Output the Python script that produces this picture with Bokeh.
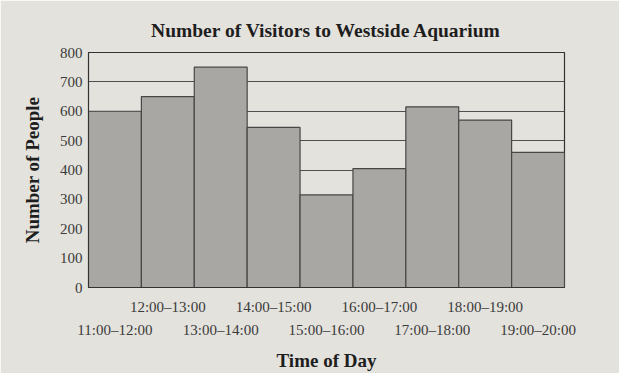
from bokeh.plotting import figure
from bokeh.models import LinearAxis, FixedTicker, Range1d
from bokeh.embed import file_html
from bokeh.resources import INLINE

# Data
time_slots = ["11:00–12:00", "12:00–13:00", "13:00–14:00", "14:00–15:00", "15:00–16:00",
              "16:00–17:00", "17:00–18:00", "18:00–19:00", "19:00–20:00"]
visitors = [600, 650, 750, 545, 315, 405, 615, 570, 460]
y_ticks = [0, 100, 200, 300, 400, 500, 600, 700, 800]

positions = list(range(1, len(time_slots) + 1))

BG = "#e4e2dd"
FONT = "Liberation Serif"

p = figure(width=619, height=373, output_backend="svg", toolbar_location=None,
           x_range=Range1d(0.5, len(time_slots) + 0.5), y_range=Range1d(0, 800),
           x_axis_type=None,
           min_border_left=88, min_border_right=55, min_border_top=52, min_border_bottom=80)

p.background_fill_color = BG
p.border_fill_color = BG
p.outline_line_color = "#333333"
p.outline_line_width = 1.2

p.title.text = "Number of Visitors to Westside Aquarium"
p.title.align = "center"
p.title.text_font = FONT
p.title.text_font_style = "bold"
p.title.text_font_size = "19.5px"
p.title.text_color = "#1e1e1e"
p.title.standoff = 23

p.vbar(x=positions, top=visitors, width=1.0, fill_color="#a8a7a3",
       line_color="#474747", line_width=1.2)

# y axis
ya = p.yaxis[0]
ya.ticker = FixedTicker(ticks=y_ticks)
ya.major_tick_out = 0
ya.major_tick_in = 0
ya.minor_tick_out = 0
ya.minor_tick_in = 0
ya.axis_line_color = "#333333"
ya.major_label_standoff = 6
ya.major_label_text_font = FONT
ya.major_label_text_font_size = "15px"
ya.major_label_text_color = "#3a3a3a"
ya.axis_label = "Number of People"
ya.axis_label_text_font = FONT
ya.axis_label_text_font_style = "bold"
ya.axis_label_text_font_size = "19px"
ya.axis_label_text_color = "#1e1e1e"
ya.axis_label_standoff = 14

p.ygrid.ticker = FixedTicker(ticks=y_ticks)
p.ygrid.grid_line_color = "#4f4f4f"
p.ygrid.grid_line_width = 1

# two staggered x axes
upper = [pos for pos in positions if pos % 2 == 0]
lower = [pos for pos in positions if pos % 2 == 1]

def make_axis(ticks, standoff):
    ax = LinearAxis(ticker=FixedTicker(ticks=ticks),
                    major_label_overrides={t: time_slots[t - 1] for t in ticks})
    ax.major_tick_out = 0
    ax.major_tick_in = 0
    ax.minor_tick_out = 0
    ax.minor_tick_in = 0
    ax.axis_line_color = None
    ax.major_label_standoff = standoff
    ax.major_label_text_font = FONT
    ax.major_label_text_font_size = "15px"
    ax.major_label_text_color = "#3a3a3a"
    return ax

ax1 = make_axis(upper, 11)
ax1.axis_line_color = "#333333"
p.add_layout(ax1, "below")

ax2 = make_axis(lower, 4)
ax2.axis_label = "Time of Day"
ax2.axis_label_text_font = FONT
ax2.axis_label_text_font_style = "bold"
ax2.axis_label_text_font_size = "19px"
ax2.axis_label_text_color = "#1e1e1e"
ax2.axis_label_standoff = 9
p.add_layout(ax2, "below")

open("out.html", "w").write(file_html(p, INLINE))
